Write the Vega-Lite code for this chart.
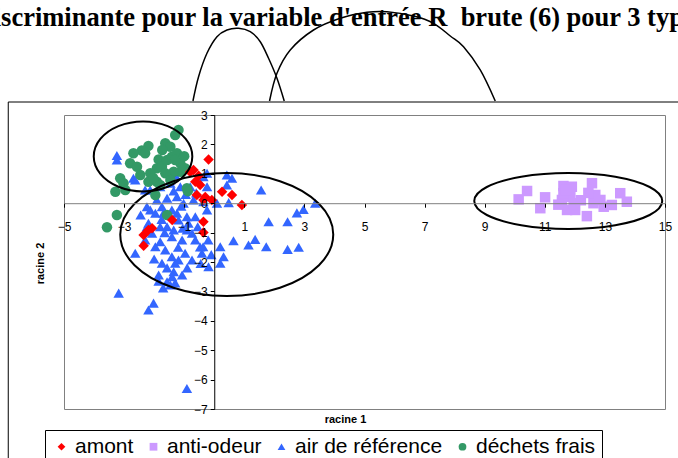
{
  "$schema": "https://vega.github.io/schema/vega-lite/v6.json",
  "autosize": {"type": "none"},
  "width": 601,
  "height": 294,
  "padding": {"left": 64, "top": 115, "right": 13, "bottom": 49},
  "background": "#ffffff",
  "title": {"text": "discriminante pour la variable d'entrée R \u00a0brute (6) pour 3 types", "anchor": "start", "frame": "group", "dx": -85, "offset": -44.5, "baseline": "alphabetic", "font": "Liberation Serif", "fontSize": 26.5, "fontWeight": "bold", "color": "#000000"},
  "config": {"view": {"stroke": "#808080", "strokeWidth": 1}, "font": "Liberation Sans", "axis": {"labelOverlap": false, "labelFlush": false, "labelBound": false}},
  "datasets": {
    "frame": [{"x": -6.855, "x2": 16, "y": 3.442, "y2": -9.5}],
    "ell": [
      {"id": "g", "i": 0, "x": -0.73, "y": 1.59}, {"id": "g", "i": 1, "x": -0.95, "y": 2.185}, {"id": "g", "i": 2, "x": -1.55, "y": 2.621}, {"id": "g", "i": 3, "x": -2.37, "y": 2.78}, {"id": "g", "i": 4, "x": -3.19, "y": 2.621}, {"id": "g", "i": 5, "x": -3.79, "y": 2.185}, {"id": "g", "i": 6, "x": -4.01, "y": 1.59}, {"id": "g", "i": 7, "x": -3.79, "y": 0.995}, {"id": "g", "i": 8, "x": -3.19, "y": 0.559}, {"id": "g", "i": 9, "x": -2.37, "y": 0.4}, {"id": "g", "i": 10, "x": -1.55, "y": 0.559}, {"id": "g", "i": 11, "x": -0.95, "y": 0.995},
      {"id": "b", "i": 0, "x": 3.96, "y": -1.065}, {"id": "b", "i": 1, "x": 3.485, "y": -0.019}, {"id": "b", "i": 2, "x": 2.188, "y": 0.747}, {"id": "b", "i": 3, "x": 0.416, "y": 1.027}, {"id": "b", "i": 4, "x": -1.356, "y": 0.747}, {"id": "b", "i": 5, "x": -2.653, "y": -0.019}, {"id": "b", "i": 6, "x": -3.128, "y": -1.065}, {"id": "b", "i": 7, "x": -2.653, "y": -2.111}, {"id": "b", "i": 8, "x": -1.356, "y": -2.877}, {"id": "b", "i": 9, "x": 0.416, "y": -3.157}, {"id": "b", "i": 10, "x": 2.188, "y": -2.877}, {"id": "b", "i": 11, "x": 3.485, "y": -2.111},
      {"id": "p", "i": 0, "x": 14.908, "y": 0.075}, {"id": "p", "i": 1, "x": 14.489, "y": 0.551}, {"id": "p", "i": 2, "x": 13.344, "y": 0.899}, {"id": "p", "i": 3, "x": 11.78, "y": 1.027}, {"id": "p", "i": 4, "x": 10.216, "y": 0.899}, {"id": "p", "i": 5, "x": 9.071, "y": 0.551}, {"id": "p", "i": 6, "x": 8.652, "y": 0.075}, {"id": "p", "i": 7, "x": 9.071, "y": -0.401}, {"id": "p", "i": 8, "x": 10.216, "y": -0.749}, {"id": "p", "i": 9, "x": 11.78, "y": -0.877}, {"id": "p", "i": 10, "x": 13.344, "y": -0.749}, {"id": "p", "i": 11, "x": 14.489, "y": -0.401}
    ],
    "arcs": [
      {"id": "a1", "i": 0, "x": -0.709, "y": 3.476}, {"id": "a1", "i": 1, "x": -0.522, "y": 4.303}, {"id": "a1", "i": 2, "x": -0.243, "y": 5.099}, {"id": "a1", "i": 3, "x": 0.09, "y": 5.663}, {"id": "a1", "i": 4, "x": 0.423, "y": 5.891}, {"id": "a1", "i": 5, "x": 0.809, "y": 5.949}, {"id": "a1", "i": 6, "x": 1.198, "y": 5.833}, {"id": "a1", "i": 7, "x": 1.531, "y": 5.493}, {"id": "a1", "i": 8, "x": 1.807, "y": 4.929}, {"id": "a1", "i": 9, "x": 2.087, "y": 4.248}, {"id": "a1", "i": 10, "x": 2.329, "y": 3.476},
      {"id": "a2", "i": 0, "x": 1.84, "y": 3.476}, {"id": "a2", "i": 1, "x": 2.087, "y": 4.418}, {"id": "a2", "i": 2, "x": 2.529, "y": 5.211}, {"id": "a2", "i": 3, "x": 3.304, "y": 5.891}, {"id": "a2", "i": 4, "x": 4.193, "y": 6.289}, {"id": "a2", "i": 5, "x": 5.082, "y": 6.493}, {"id": "a2", "i": 6, "x": 5.747, "y": 6.514}, {"id": "a2", "i": 7, "x": 6.632, "y": 6.367}, {"id": "a2", "i": 8, "x": 7.298, "y": 6.119}, {"id": "a2", "i": 9, "x": 7.854, "y": 5.687}, {"id": "a2", "i": 10, "x": 8.296, "y": 5.323}, {"id": "a2", "i": 11, "x": 8.852, "y": 4.531}, {"id": "a2", "i": 12, "x": 9.351, "y": 3.476}
    ],
    "pts": [
      {"g": "air de référence", "x": -0.24, "y": 1.02}, {"g": "air de référence", "x": 0.59, "y": 0.85}, {"g": "air de référence", "x": 0.42, "y": 0.62}, {"g": "air de référence", "x": 1.56, "y": 0.45}, {"g": "air de référence", "x": 0.48, "y": 0.02}, {"g": "air de référence", "x": 3.36, "y": 0.0}, {"g": "air de référence", "x": 2.97, "y": -0.21}, {"g": "air de référence", "x": 2.75, "y": -0.33}, {"g": "air de référence", "x": 1.81, "y": -0.63}, {"g": "air de référence", "x": 2.44, "y": -0.63}, {"g": "air de référence", "x": 0.2, "y": -1.48}, {"g": "air de référence", "x": 0.64, "y": -1.28}, {"g": "air de référence", "x": 1.14, "y": -1.42}, {"g": "air de référence", "x": 1.36, "y": -1.23}, {"g": "air de référence", "x": 1.73, "y": -1.48}, {"g": "air de référence", "x": 2.44, "y": -1.57}, {"g": "air de référence", "x": 2.81, "y": -1.5}, {"g": "air de référence", "x": 0.31, "y": -1.82}, {"g": "air de référence", "x": 0.2, "y": -2.04},
      {"g": "air de référence", "x": -3.18, "y": -3.06}, {"g": "air de référence", "x": -2.02, "y": -3.4}, {"g": "air de référence", "x": -2.19, "y": -3.63}, {"g": "air de référence", "x": -0.91, "y": -6.3},
      {"g": "air de référence", "x": -2.13, "y": 0.45}, {"g": "air de référence", "x": -1.8, "y": 0.56}, {"g": "air de référence", "x": -1.46, "y": 0.68}, {"g": "air de référence", "x": -1.13, "y": 0.56}, {"g": "air de référence", "x": -0.8, "y": 0.56}, {"g": "air de référence", "x": -1.91, "y": 0.11}, {"g": "air de référence", "x": -1.57, "y": 0.17}, {"g": "air de référence", "x": -1.24, "y": 0.22}, {"g": "air de référence", "x": -1.02, "y": 0.0}, {"g": "air de référence", "x": -0.69, "y": 0.11}, {"g": "air de référence", "x": -2.13, "y": -0.23}, {"g": "air de référence", "x": -1.69, "y": -0.34}, {"g": "air de référence", "x": -1.24, "y": -0.34}, {"g": "air de référence", "x": -0.91, "y": -0.46}, {"g": "air de référence", "x": -2.24, "y": -0.8}, {"g": "air de référence", "x": -1.8, "y": -0.8}, {"g": "air de référence", "x": -1.35, "y": -0.91}, {"g": "air de référence", "x": -0.91, "y": -0.91}, {"g": "air de référence", "x": -0.36, "y": 0.9}, {"g": "air de référence", "x": -0.24, "y": 0.56}, {"g": "air de référence", "x": -0.52, "y": 0.79}, {"g": "air de référence", "x": 0.42, "y": 0.96}, {"g": "air de référence", "x": -0.36, "y": 0.05}, {"g": "air de référence", "x": -2.69, "y": 0.85}, {"g": "air de référence", "x": -3.24, "y": 1.47}, {"g": "air de référence", "x": -3.24, "y": 1.62},
      {"g": "air de référence", "x": -2.63, "y": -1.7}, {"g": "air de référence", "x": -1.96, "y": -1.48}, {"g": "air de référence", "x": -1.63, "y": -1.59}, {"g": "air de référence", "x": -1.41, "y": -1.82}, {"g": "air de référence", "x": -1.07, "y": -2.44}, {"g": "air de référence", "x": -1.35, "y": -2.33}, {"g": "air de référence", "x": -1.74, "y": -2.04}, {"g": "air de référence", "x": -1.85, "y": -2.44}, {"g": "air de référence", "x": -1.57, "y": -2.67}, {"g": "air de référence", "x": -1.3, "y": -2.04}, {"g": "air de référence", "x": -0.74, "y": -1.93}, {"g": "air de référence", "x": -0.63, "y": -1.25}, {"g": "air de référence", "x": -0.19, "y": -2.16}, {"g": "air de référence", "x": -2.3, "y": -1.25}, {"g": "air de référence", "x": -2.07, "y": -1.02}, {"g": "air de référence", "x": -2.19, "y": -0.68}, {"g": "air de référence", "x": -1.96, "y": -0.34}, {"g": "air de référence", "x": -1.74, "y": -0.12}, {"g": "air de référence", "x": -1.41, "y": -0.23}, {"g": "air de référence", "x": -1.19, "y": -0.57}, {"g": "air de référence", "x": -0.86, "y": -0.68}, {"g": "air de référence", "x": -0.63, "y": -0.46}, {"g": "air de référence", "x": -0.74, "y": -1.02}, {"g": "air de référence", "x": -1.07, "y": -1.25}, {"g": "air de référence", "x": -1.41, "y": -1.14}, {"g": "air de référence", "x": -1.57, "y": -0.8}, {"g": "air de référence", "x": -1.8, "y": -1.31}, {"g": "air de référence", "x": -0.41, "y": -1.7}, {"g": "air de référence", "x": -0.97, "y": -1.7}, {"g": "air de référence", "x": -1.19, "y": -1.93}, {"g": "air de référence", "x": -2.24, "y": -0.12}, {"g": "air de référence", "x": -1.46, "y": -2.78}, {"g": "air de référence", "x": -1.7, "y": -2.88}, {"g": "air de référence", "x": -1.3, "y": -2.71}, {"g": "air de référence", "x": -0.47, "y": -1.49}, {"g": "air de référence", "x": -0.2, "y": -1.25}, {"g": "air de référence", "x": -0.37, "y": -1.48}, {"g": "air de référence", "x": -0.24, "y": -0.23}, {"g": "air de référence", "x": 0.09, "y": 0.0}, {"g": "air de référence", "x": -1.46, "y": 0.79}, {"g": "air de référence", "x": -2.3, "y": 0.45}, {"g": "air de référence", "x": -1.3, "y": 0.96}, {"g": "air de référence", "x": -2.63, "y": 0.79}, {"g": "air de référence", "x": -1.57, "y": -2.2}, {"g": "air de référence", "x": -2.0, "y": -1.9}, {"g": "air de référence", "x": -1.2, "y": -1.5}, {"g": "air de référence", "x": -0.9, "y": -2.2}, {"g": "air de référence", "x": -1.65, "y": -1.0}, {"g": "air de référence", "x": -1.05, "y": -0.85}, {"g": "air de référence", "x": -2.45, "y": -0.4}, {"g": "air de référence", "x": -0.55, "y": -0.8}, {"g": "air de référence", "x": -1.85, "y": -2.65}, {"g": "air de référence", "x": -1.4, "y": -2.5}, {"g": "air de référence", "x": -0.1, "y": -1.75}, {"g": "air de référence", "x": -0.45, "y": -2.05}, {"g": "air de référence", "x": -0.95, "y": 0.3}, {"g": "air de référence", "x": -1.35, "y": 0.42}, {"g": "air de référence", "x": -0.6, "y": 0.35}, {"g": "air de référence", "x": -1.75, "y": -0.55}, {"g": "air de référence", "x": -1.1, "y": -0.1},
      {"g": "déchets frais", "x": -1.19, "y": 2.49}, {"g": "déchets frais", "x": -1.3, "y": 2.32}, {"g": "déchets frais", "x": -1.63, "y": 2.04}, {"g": "déchets frais", "x": -1.46, "y": 1.92}, {"g": "déchets frais", "x": -2.19, "y": 1.95}, {"g": "déchets frais", "x": -2.41, "y": 1.79}, {"g": "déchets frais", "x": -2.69, "y": 1.7}, {"g": "déchets frais", "x": -2.8, "y": 1.36}, {"g": "déchets frais", "x": -2.57, "y": 1.24}, {"g": "déchets frais", "x": -1.85, "y": 1.49}, {"g": "déchets frais", "x": -1.91, "y": 1.19}, {"g": "déchets frais", "x": -2.13, "y": 1.02}, {"g": "déchets frais", "x": -1.74, "y": 1.24}, {"g": "déchets frais", "x": -1.57, "y": 1.47}, {"g": "déchets frais", "x": -1.41, "y": 1.58}, {"g": "déchets frais", "x": -1.24, "y": 1.7}, {"g": "déchets frais", "x": -1.13, "y": 1.36}, {"g": "déchets frais", "x": -1.13, "y": 1.07}, {"g": "déchets frais", "x": -1.35, "y": 1.07}, {"g": "déchets frais", "x": -1.63, "y": 1.02}, {"g": "déchets frais", "x": -2.19, "y": 0.73}, {"g": "déchets frais", "x": -1.91, "y": 0.73}, {"g": "déchets frais", "x": -1.8, "y": 0.62}, {"g": "déchets frais", "x": -3.13, "y": 0.85}, {"g": "déchets frais", "x": -3.02, "y": 0.68}, {"g": "déchets frais", "x": -3.29, "y": 0.39}, {"g": "déchets frais", "x": -2.96, "y": 0.45}, {"g": "déchets frais", "x": -1.96, "y": 0.28}, {"g": "déchets frais", "x": -0.91, "y": 0.51}, {"g": "déchets frais", "x": -2.3, "y": 1.7}, {"g": "déchets frais", "x": -0.97, "y": 1.19}, {"g": "déchets frais", "x": -3.24, "y": -0.4}, {"g": "déchets frais", "x": -3.57, "y": -0.82}, {"g": "déchets frais", "x": -1.57, "y": -0.4}, {"g": "déchets frais", "x": -0.88, "y": 0.41}, {"g": "déchets frais", "x": -1.3, "y": 1.47}, {"g": "déchets frais", "x": -1.46, "y": 0.79}, {"g": "déchets frais", "x": -2.46, "y": 0.96}, {"g": "déchets frais", "x": -1.73, "y": 1.81}, {"g": "déchets frais", "x": -2.03, "y": 0.86}, {"g": "déchets frais", "x": -1.0, "y": 1.6},
      {"g": "amont", "x": -0.19, "y": 1.49}, {"g": "amont", "x": -0.69, "y": 1.13}, {"g": "amont", "x": -0.52, "y": 0.93}, {"g": "amont", "x": -0.63, "y": 0.73}, {"g": "amont", "x": 0.26, "y": 0.39}, {"g": "amont", "x": 0.59, "y": 0.28}, {"g": "amont", "x": 0.92, "y": -0.06}, {"g": "amont", "x": -0.36, "y": 0.11}, {"g": "amont", "x": -0.58, "y": 0.28}, {"g": "amont", "x": -0.3, "y": 0.21}, {"g": "amont", "x": -0.08, "y": 0.11}, {"g": "amont", "x": -0.36, "y": -0.63}, {"g": "amont", "x": -0.36, "y": -1.0}, {"g": "amont", "x": -2.19, "y": -0.91}, {"g": "amont", "x": -2.35, "y": -1.08}, {"g": "amont", "x": -2.35, "y": -1.45}, {"g": "amont", "x": -2.07, "y": -0.85}, {"g": "amont", "x": -1.4, "y": -0.57}, {"g": "amont", "x": -0.47, "y": 0.62}, {"g": "amont", "x": -0.8, "y": 1.06},
      {"g": "anti-odeur", "x": 10.41, "y": 0.415}, {"g": "anti-odeur", "x": 10.13, "y": 0.13}, {"g": "anti-odeur", "x": 11.01, "y": 0.2}, {"g": "anti-odeur", "x": 10.85, "y": -0.17}, {"g": "anti-odeur", "x": 11.62, "y": 0.585}, {"g": "anti-odeur", "x": 11.9, "y": 0.56}, {"g": "anti-odeur", "x": 11.57, "y": 0.11}, {"g": "anti-odeur", "x": 11.85, "y": 0.22}, {"g": "anti-odeur", "x": 11.74, "y": -0.23}, {"g": "anti-odeur", "x": 11.96, "y": 0.0}, {"g": "anti-odeur", "x": 12.57, "y": 0.68}, {"g": "anti-odeur", "x": 12.68, "y": 0.28}, {"g": "anti-odeur", "x": 12.62, "y": 0.0}, {"g": "anti-odeur", "x": 12.85, "y": 0.11}, {"g": "anti-odeur", "x": 12.96, "y": -0.12}, {"g": "anti-odeur", "x": 13.23, "y": -0.06}, {"g": "anti-odeur", "x": 12.4, "y": -0.44}, {"g": "anti-odeur", "x": 13.51, "y": 0.34}, {"g": "anti-odeur", "x": 13.73, "y": 0.05}, {"g": "anti-odeur", "x": 11.62, "y": 0.34}, {"g": "anti-odeur", "x": 12.01, "y": -0.23}, {"g": "anti-odeur", "x": 11.7, "y": 0.45}, {"g": "anti-odeur", "x": 12.2, "y": 0.1}, {"g": "anti-odeur", "x": 12.45, "y": 0.35}, {"g": "anti-odeur", "x": 11.45, "y": -0.05}
    ]
  },
  "encoding": {
    "x": {"field": "x", "type": "quantitative", "scale": {"domain": [-5, 15], "nice": false, "zero": false},
      "axis": {"orient": "bottom", "offset": -205.8, "values": [-5, -3, -1, 1, 3, 5, 7, 9, 11, 13, 15], "grid": false, "zindex": 1, "domainColor": "#808080", "domainWidth": 1, "tickColor": "#000000", "tickSize": 4, "labelFont": "Liberation Sans", "labelFontSize": 12, "labelColor": "#000000", "labelPadding": 14, "labelFlush": false, "labelOverlap": false, "title": "racine 1", "titleFont": "Liberation Sans", "titleFontSize": 11, "titleFontWeight": "bold", "titleColor": "#000000", "titleX": 281, "titleY": 216, "titleBaseline": "middle", "titleAlign": "center"}},
    "y": {"field": "y", "type": "quantitative", "scale": {"domain": [-7, 3], "nice": false, "zero": false},
      "axis": {"orient": "left", "offset": -150.25, "values": [-7, -6, -5, -4, -3, -2, -1, 0, 1, 2, 3], "grid": false, "zindex": 1, "domainColor": "#000000", "domainWidth": 1, "tickColor": "#000000", "tickSize": 4, "labelFont": "Liberation Sans", "labelFontSize": 12, "labelColor": "#000000", "labelPadding": 3, "labelFlush": false, "labelOverlap": false, "title": "racine 2", "titleFont": "Liberation Sans", "titleFontSize": 11, "titleFontWeight": "bold", "titleColor": "#000000", "titleX": -174, "titleY": 148, "titleAngle": -90, "titleBaseline": "middle", "titleAlign": "center"}}
  },
  "layer": [
    {
      "data": {"name": "frame"},
      "mark": {"type": "rect", "fill": null, "fillOpacity": 0, "stroke": "#000000", "strokeWidth": 1},
      "encoding": {"x2": {"field": "x2"}, "y2": {"field": "y2"}}
    },
    {
      "data": {"name": "pts"},
      "mark": {"type": "point", "filled": true, "size": 110, "opacity": 1, "strokeWidth": 0},
      "encoding": {
        "color": {"field": "g", "type": "nominal", "scale": {"domain": ["amont", "anti-odeur", "air de référence", "déchets frais"], "range": ["#FF0000", "#CC99FF", "#3366FF", "#339966"]},
          "legend": {"orient": "none", "legendX": -19, "legendY": 315, "direction": "horizontal", "title": null, "strokeColor": "#000000", "fillColor": "#ffffff", "padding": 6, "labelFont": "Liberation Sans", "labelFontSize": 21, "labelColor": "#000000", "symbolSize": 60, "columnPadding": 9, "labelOffset": 3, "symbolStrokeWidth": 0, "cornerRadius": 0}},
        "shape": {"field": "g", "type": "nominal", "scale": {"domain": ["amont", "anti-odeur", "air de référence", "déchets frais"], "range": ["diamond", "square", "triangle-up", "circle"]},
          "legend": {"orient": "none", "legendX": -19, "legendY": 315, "direction": "horizontal", "title": null, "strokeColor": "#000000", "fillColor": "#ffffff", "padding": 6, "labelFont": "Liberation Sans", "labelFontSize": 21, "labelColor": "#000000", "symbolSize": 60, "columnPadding": 9, "labelOffset": 3, "symbolStrokeWidth": 0, "cornerRadius": 0}}
      }
    },
    {
      "data": {"name": "ell"},
      "mark": {"type": "line", "interpolate": "cardinal-closed", "stroke": "#000000", "strokeWidth": 2},
      "encoding": {"detail": {"field": "id"}, "order": {"field": "i", "type": "quantitative"}}
    },
    {
      "data": {"name": "arcs"},
      "mark": {"type": "line", "interpolate": "cardinal", "stroke": "#000000", "strokeWidth": 1.5},
      "encoding": {"detail": {"field": "id"}, "order": {"field": "i", "type": "quantitative"}}
    }
  ]
}
